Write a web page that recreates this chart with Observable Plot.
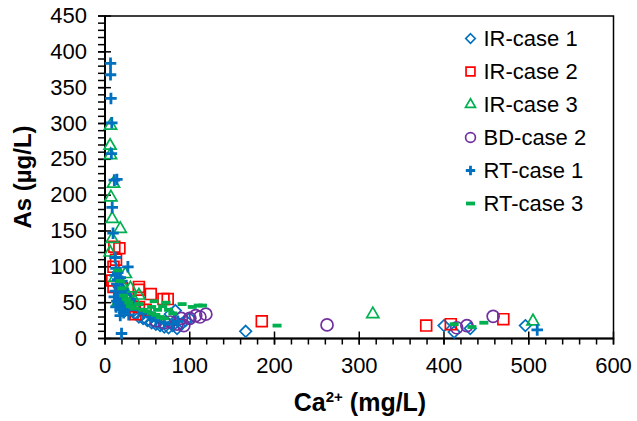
<!DOCTYPE html>
<html><head><meta charset="utf-8">
<script src="https://cdn.jsdelivr.net/npm/d3@7"></script>
<script src="https://cdn.jsdelivr.net/npm/@observablehq/plot@0.6"></script>
<style>body{margin:0;background:#fff;}</style>
</head><body><div id="chart"></div>
<script>
// ---- data: [Ca2+ (mg/L), As (µg/L)] ----
const seriesNames = ["IR-case 1", "IR-case 2", "IR-case 3", "BD-case 2", "RT-case 1", "RT-case 3"];
const irCase1 = [[20,60],[22,48],[25,42],[30,38],[35,35],[40,30],[45,28],[50,25],[55,22],[60,20],[65,18],[70,16],[75,15],[80,18],[85,14],[90,20],[77,34],[83,39],[95,25],[100,28],[166,10],[400,18],[412,9],[431,14],[496,18]];
const irCase2 = [[11,128],[17,126],[13,110],[10,100],[8.5,81],[10,72],[40,72],[40,68],[54,62],[69,55],[74,55],[48,40],[40,44],[36,34],[30,45],[25,55],[20,70],[185,24],[379,18],[408,20],[470,27]];
const irCase3 = [[6.5,297],[6,269],[6.5,256],[10,216],[7,197],[8.5,167],[18,153],[8.5,139],[6,120],[24,90],[12,85],[20,75],[30,70],[40,60],[28,58],[22,65],[35,52],[15,50],[316,34],[505,24]];
const bdCase2 = [[60,25],[70,22],[77,23],[85,20],[93,18],[90,28],[100,28],[107,32],[112,30],[119,34],[262,19],[415,15],[427,18],[458,31]];
const rtCase1 = [[6.5,384],[6.5,368],[7,335],[8,301],[7.5,258],[11,221],[14,222],[8.5,183],[9.5,147],[12,113],[27,100],[13,98],[15,92],[18,85],[20,80],[14,76],[16,72],[12,66],[17,62],[19,58],[22,55],[14,52],[16,48],[20,45],[25,50],[18,40],[22,36],[18,32],[19.5,7],[30,55],[35,48],[40,40],[45,35],[55,30],[60,25],[70,22],[80,20],[86,24],[12,88],[15,82],[21,68],[24,62],[11,58],[13,44],[26,40],[28,33],[510,12]];
const rtCase3 = [[15,95],[18,80],[20,70],[22,60],[25,55],[28,50],[30,45],[35,42],[40,48],[45,40],[50,38],[55,35],[60,33],[65,30],[70,28],[55,44],[62,40],[75,40],[80,35],[68,45],[72,50],[58,52],[91,48],[103,44],[110,46],[115,46],[203,18],[412,20],[433,16],[447,22]];
const xTicks = [0,100,200,300,400,500,600];
const yTicks = [0,50,100,150,200,250,300,350,400,450];

const dash = {draw(ctx){ ctx.rect(-4.5,-1.9,9,3.8); }};
const styles = [
  {data: irCase1, symbol: "diamond2", stroke: "#0070C0", fill: "none", r: 5.2, sw: 1.7},
  {data: irCase2, symbol: "square2", stroke: "#FF0000", fill: "none", r: 6.9, sw: 1.7},
  {data: irCase3, symbol: "triangle2", stroke: "#00B050", fill: "none", r: 5.8, sw: 1.7},
  {data: bdCase2, symbol: "circle", stroke: "#7030A0", fill: "none", r: 6, sw: 1.7},
  {data: rtCase1, symbol: "plus", stroke: "#0070C0", fill: "none", r: 3.8, sw: 2.8},
  {data: rtCase3, symbol: dash, stroke: "none", fill: "#00B050", r: 4, sw: 0}
];

const FONT = "'Liberation Sans', Arial, sans-serif";
const marks = [
  Plot.frame({stroke: "black", strokeWidth: 1.5}),
  Plot.axisX(d3.range(0, 601, 20), {tickSize: 6.5, text: null, strokeWidth: 1.5}),
  Plot.axisX(xTicks, {tickSize: 13, dy: -6.5, text: null, strokeWidth: 1.5}),
  Plot.axisX(xTicks, {tickSize: 0, tickPadding: 19, fontSize: 22, fill: "black"}),
  Plot.axisY(d3.range(0, 451, 10), {tickSize: 6.5, text: null, strokeWidth: 1.5}),
  Plot.axisY(yTicks, {tickSize: 13, dx: 6.5, text: null, strokeWidth: 1.5}),
  Plot.axisY(yTicks, {tickSize: 0, tickPadding: 18, fontSize: 22, fill: "black"}),
  Plot.ruleY([0], {stroke: "black", strokeWidth: 2}),
  Plot.ruleX([0], {stroke: "black", strokeWidth: 2})
];
styles.forEach((s) => {
  marks.push(Plot.dot(s.data, {x: d => d[0], y: d => d[1], symbol: s.symbol, stroke: s.stroke, fill: s.fill, r: s.r, strokeWidth: s.sw}));
});
styles.forEach((s, i) => {
  marks.push(Plot.dot([0], {frameAnchor: "top-left", dx: 365.5, dy: 22.5 + 33 * i, symbol: s.symbol, stroke: s.stroke, fill: s.fill, r: s.r * 0.82, strokeWidth: s.sw}));
  marks.push(Plot.text([seriesNames[i]], {text: d => d, frameAnchor: "top-left", textAnchor: "start", lineAnchor: "middle", dx: 378.5, dy: 22.5 + 33 * i, fontSize: 22, fill: "black"}));
});

const chart = Plot.plot({
  width: 637, height: 421,
  marginLeft: 104.5, marginRight: 24, marginTop: 15.5, marginBottom: 83,
  style: {fontFamily: FONT, background: "white", color: "black"},
  x: {domain: [0, 600], label: null},
  y: {domain: [0, 450], label: null},
  marks
});
document.getElementById("chart").appendChild(chart);

const svg = d3.select(chart);
const xt = svg.append("text").attr("x", 360).attr("y", 411).attr("text-anchor", "middle")
  .attr("font-family", FONT).attr("font-weight", "bold").attr("font-size", 25).attr("fill", "black");
xt.append("tspan").text("Ca");
xt.append("tspan").attr("font-size", 15).attr("dy", -9).text("2+");
xt.append("tspan").attr("dy", 9).text(" (mg/L)");
svg.append("text").attr("transform", "translate(31,177) rotate(-90)").attr("text-anchor", "middle")
  .attr("font-family", FONT).attr("font-weight", "bold").attr("font-size", 24).attr("fill", "black")
  .text("As (µg/L)");
</script></body></html>
